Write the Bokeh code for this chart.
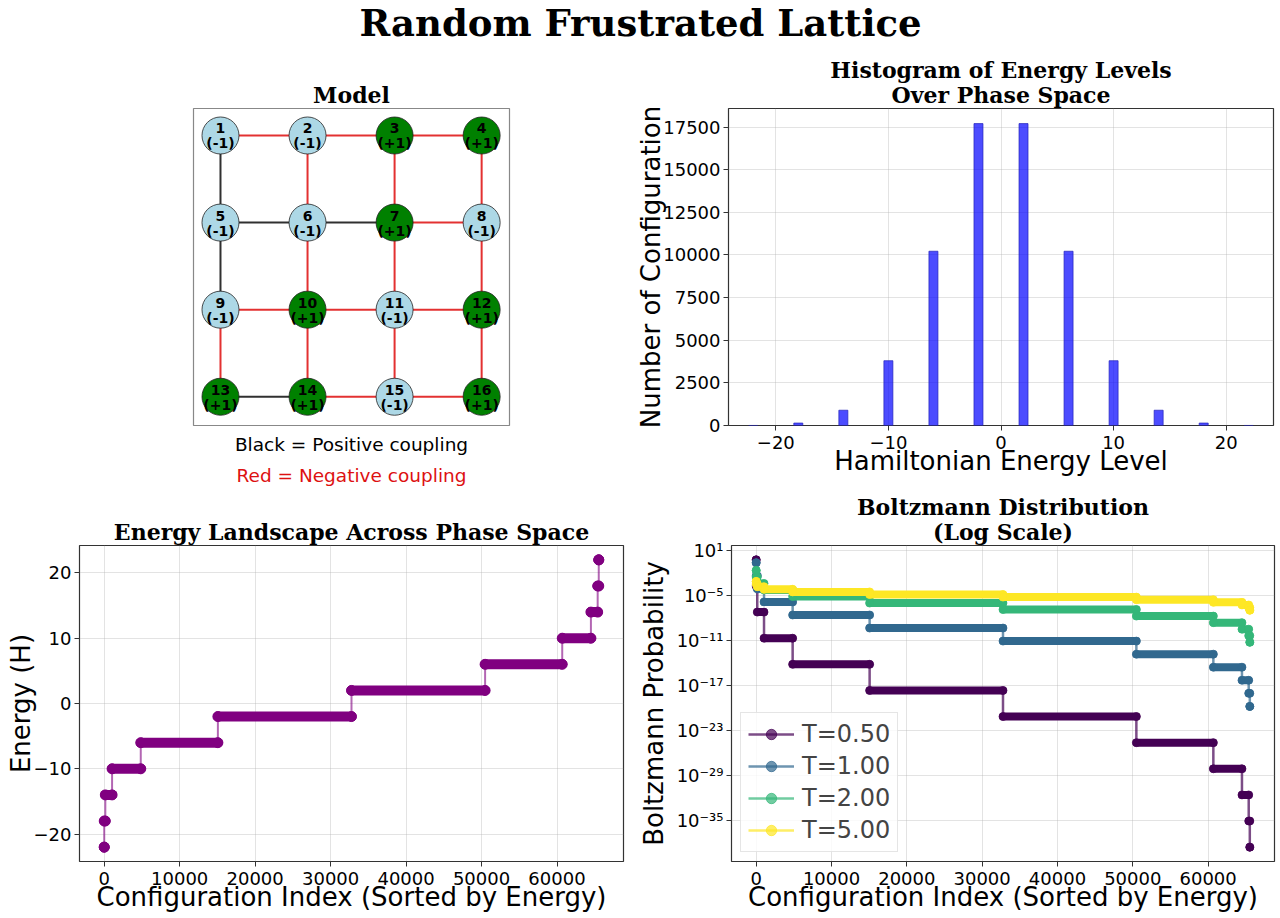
import numpy as np
from bokeh.plotting import figure
from bokeh.models import (Range1d, FixedTicker, CustomJSTickFormatter, Title,
                          Legend, LegendItem)
from bokeh.layouts import column, row
from bokeh.core.properties import value
from bokeh.embed import file_html
from bokeh.resources import INLINE

# ---------------- data ----------------
energy_levels = [-22, -18, -14, -10, -6, -2, 2, 6, 10, 14, 18, 22]
level_counts = [2, 144, 896, 3800, 10220, 17706, 17706, 10220, 3800, 896, 144, 2]
temperatures = [0.5, 1.0, 2.0, 5.0]
temp_labels = ["T=0.50", "T=1.00", "T=2.00", "T=5.00"]
temp_colors = ["#440154", "#31688e", "#35b779", "#fde725"]

node_ids = list(range(1, 17))
node_spins = [-1, -1, 1, 1, -1, -1, 1, -1, -1, 1, -1, 1, 1, 1, -1, 1]
bond_i = [1, 2, 3, 5, 6, 7, 9, 10, 11, 13, 14, 15, 1, 5, 9, 2, 6, 10, 3, 7, 11, 4, 8, 12]
bond_j = [2, 3, 4, 6, 7, 8, 10, 11, 12, 14, 15, 16, 5, 9, 13, 6, 10, 14, 7, 11, 15, 8, 12, 16]
bond_sign = [-1, -1, -1, 1, 1, -1, -1, -1, -1, 1, -1, -1, 1, 1, -1, -1, -1, -1, -1, -1, -1, -1, -1, -1]

hist_xticks = [-20, -10, 0, 10, 20]
hist_yticks = [0, 2500, 5000, 7500, 10000, 12500, 15000, 17500]
energy_yticks = [-20, -10, 0, 10, 20]
index_xticks = [0, 10000, 20000, 30000, 40000, 50000, 60000]
log_yticks = [1e1, 1e-5, 1e-11, 1e-17, 1e-23, 1e-29, 1e-35]

SANS = "DejaVu Sans"
SERIF = "DejaVu Serif"

minus_fmt = CustomJSTickFormatter(code="return String(tick).replace('-', '\u2212');")
log_fmt = CustomJSTickFormatter(code="""
const e = Math.round(Math.log10(tick));
const sup = {'0':'\u2070','1':'\u00b9','2':'\u00b2','3':'\u00b3','4':'\u2074','5':'\u2075','6':'\u2076','7':'\u2077','8':'\u2078','9':'\u2079','-':'\u207b'};
return '10' + String(e).split('').map(c => sup[c]).join('');
""")


def set_title(t, text, standoff):
    t.text = text
    t.align = "center"
    t.text_font = SERIF
    t.text_font_size = "22px"
    t.text_font_style = "bold"
    t.text_color = "black"
    t.standoff = standoff


def style_plot(p, title_lines):
    if len(title_lines) == 1:
        set_title(p.title, title_lines[0], 1)
    else:
        # p.title is drawn outermost; the added Title sits next to the frame
        set_title(p.title, title_lines[0], -6)
        t = Title()
        set_title(t, title_lines[1], 1)
        p.add_layout(t, "above")
    p.outline_line_color = "#333333"
    p.outline_line_width = 1.2
    for ax in p.axis:
        ax.axis_line_color = None
        ax.major_tick_line_color = "#333333"
        ax.major_tick_out = 5
        ax.major_tick_in = 0
        ax.minor_tick_line_color = None
        ax.major_label_text_font = SANS
        ax.major_label_text_font_size = "18px"
        ax.major_label_text_color = "black"
        ax.major_label_standoff = 3
        ax.axis_label_text_font = SANS
        ax.axis_label_text_font_size = "26px"
        ax.axis_label_text_font_style = "normal"
        ax.axis_label_text_color = "black"
    p.xaxis.major_label_standoff = 5
    p.xaxis.axis_label_standoff = -6
    p.grid.grid_line_color = "#b0b0b0"
    p.grid.grid_line_alpha = 0.35


# ---------------- suptitle ----------------
top = figure(width=1280, height=57, x_range=Range1d(0, 1280), y_range=Range1d(0, 57),
             toolbar_location=None, output_backend="svg", min_border=0,
             x_axis_location=None, y_axis_location=None)
top.outline_line_color = None
top.grid.visible = False
top.text(x=[640], y=[35], text=["Random Frustrated Lattice"], text_font=value(SERIF),
         text_font_style="bold", text_font_size="37px", text_align="center",
         text_baseline="middle", text_color="black")

# ---------------- model panel ----------------
tl = figure(width=628, height=433, x_range=Range1d(-0.31, 3.32), y_range=Range1d(3.33, -0.31),
            toolbar_location=None, output_backend="svg",
            min_border_left=193, min_border_right=119, min_border_top=51, min_border_bottom=65,
            x_axis_location=None, y_axis_location=None)
tl.grid.visible = False
tl.outline_line_color = "#888888"
tl.outline_line_width = 1.2
set_title(tl.title, "Model", 1)

node_x = [(i - 1) % 4 for i in node_ids]
node_y = [(i - 1) // 4 for i in node_ids]
bx0 = [node_x[i - 1] for i in bond_i]
by0 = [node_y[i - 1] for i in bond_i]
bx1 = [node_x[j - 1] for j in bond_j]
by1 = [node_y[j - 1] for j in bond_j]
bcol = ["#1a1a1a" if s > 0 else "#e01b1b" for s in bond_sign]
tl.segment(x0=bx0, y0=by0, x1=bx1, y1=by1, line_color=bcol, line_width=2, line_alpha=0.9)
ncol = ["#add8e6" if s < 0 else "#008000" for s in node_spins]
tl.scatter(x=node_x, y=node_y, size=37, fill_color=ncol, line_color="#222222", line_width=0.8)
tl.text(x=node_x, y=node_y, text=[str(i) for i in node_ids], text_font=value(SANS),
        text_font_style="bold", text_font_size="14px", text_align="center",
        text_baseline="middle", y_offset=-7, text_color="black")
tl.text(x=node_x, y=node_y, text=["(%+d)" % s for s in node_spins], text_font=value(SANS),
        text_font_style="bold", text_font_size="14px", text_align="center",
        text_baseline="middle", y_offset=8, text_color="black")
tl.add_layout(Title(text="Black = Positive coupling", align="center", text_font=SANS,
                    text_font_size="18.5px", text_font_style="normal", text_color="black",
                    standoff=12), "below")
tl.add_layout(Title(text="Red = Negative coupling", align="center", text_font=SANS,
                    text_font_size="18.5px", text_font_style="normal", text_color="#dd1111",
                    standoff=5), "below")

# ---------------- histogram ----------------
tr = figure(width=652, height=433, x_range=Range1d(-24.2, 24.2), y_range=Range1d(0, 18591),
            toolbar_location=None, output_backend="svg",
            min_border_left=100, min_border_right=7, min_border_top=51, min_border_bottom=65)
tr.vbar(x=energy_levels, width=0.8, top=level_counts, bottom=0, fill_color="blue",
        fill_alpha=0.7, line_color="#2222bb", line_alpha=0.7, line_width=1)
tr.xaxis.axis_label = "Hamiltonian Energy Level"
tr.yaxis.axis_label = "Number of Configuration"
style_plot(tr, ["Histogram of Energy Levels", "Over Phase Space"])
tr.yaxis.axis_label_standoff = -6
tr.xaxis.ticker = FixedTicker(ticks=hist_xticks)
tr.yaxis.ticker = FixedTicker(ticks=hist_yticks)
tr.xaxis.formatter = minus_fmt
tr.yaxis.formatter = minus_fmt

# ---------------- sorted landscape ----------------
starts = np.concatenate([[0], np.cumsum(level_counts)[:-1]])
ends = starts + np.array(level_counts) - 1
step_x = np.ravel(np.column_stack([starts, ends]))


def step_y(vals):
    return np.ravel(np.column_stack([vals, vals]))


bl = figure(width=630, height=428, x_range=Range1d(-3277, 68812), y_range=Range1d(-24.2, 24.2),
            toolbar_location=None, output_backend="svg",
            min_border_left=79, min_border_right=7, min_border_top=55, min_border_bottom=57)
purple = "#800080"
bl.line(x=step_x, y=step_y(energy_levels), line_color=purple, line_alpha=0.6, line_width=2)
bl.segment(x0=starts, y0=energy_levels, x1=ends, y1=energy_levels, line_color=purple,
           line_width=10, line_cap="round")
bl.scatter(x=step_x, y=step_y(energy_levels), size=10, fill_color=purple, line_color=purple)
bl.xaxis.axis_label = "Configuration Index (Sorted by Energy)"
bl.yaxis.axis_label = "Energy (H)"
style_plot(bl, ["Energy Landscape Across Phase Space"])
bl.yaxis.axis_label_standoff = -5
bl.xaxis.ticker = FixedTicker(ticks=index_xticks)
bl.yaxis.ticker = FixedTicker(ticks=energy_yticks)
bl.xaxis.formatter = minus_fmt
bl.yaxis.formatter = minus_fmt

# ---------------- Boltzmann ----------------
br = figure(width=650, height=428, x_range=Range1d(-3277, 68812),
            y_range=Range1d(10 ** -40.44, 10 ** 1.6), y_axis_type="log",
            toolbar_location=None, output_backend="svg",
            min_border_left=101, min_border_right=6, min_border_top=55, min_border_bottom=57)
E = np.array(energy_levels, dtype=float)
N = np.array(level_counts, dtype=float)
items = []
for T, lab, col in zip(temperatures, temp_labels, temp_colors):
    w = np.exp(-(E - E.min()) / T)
    prob = w / np.sum(N * w)
    lr = br.line(x=step_x, y=step_y(prob), line_color=col, line_alpha=0.7, line_width=2.5)
    br.segment(x0=starts, y0=prob, x1=ends, y1=prob, line_color=col, line_width=8,
               line_cap="round")
    sr = br.scatter(x=step_x, y=step_y(prob), size=8, fill_color=col, line_color=col,
                    fill_alpha=0.7, line_alpha=0.7)
    items.append(LegendItem(label=lab, renderers=[lr, sr]))
br.xaxis.axis_label = "Configuration Index (Sorted by Energy)"
br.yaxis.axis_label = "Boltzmann Probability"
style_plot(br, ["Boltzmann Distribution", "(Log Scale)"])
br.yaxis.axis_label_standoff = 5
br.xaxis.ticker = FixedTicker(ticks=index_xticks)
br.yaxis.ticker = FixedTicker(ticks=log_yticks)
br.xaxis.formatter = minus_fmt
br.yaxis.formatter = log_fmt
leg = Legend(items=items, location="bottom_left")
leg.label_text_font = SANS
leg.label_text_font_size = "24px"
leg.glyph_width = 46
leg.glyph_height = 26
leg.label_standoff = 8
leg.spacing = 4
leg.padding = 7
leg.margin = 9
leg.border_line_color = "#cccccc"
leg.background_fill_alpha = 0.8
br.add_layout(leg)

layout = column(top, row(tl, tr), row(bl, br))
open("out.html", "w").write(file_html(layout, INLINE))
